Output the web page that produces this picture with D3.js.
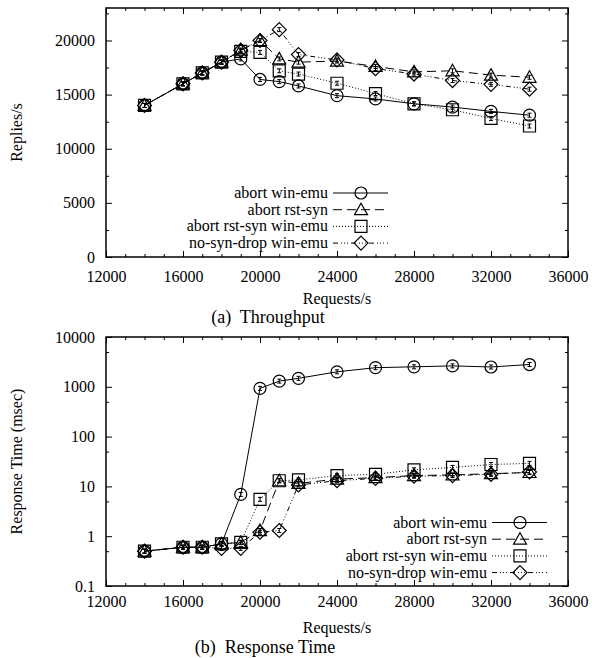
<!DOCTYPE html>
<html>
<head>
<meta charset="utf-8">
<script src="https://cdn.jsdelivr.net/npm/d3@7"></script>
<style>
  body { margin: 0; background: #fff; }
  svg { display: block; }
  text { font-family: "Liberation Serif", "Times New Roman", serif; fill: #000; }
</style>
</head>
<body>
<svg id="chart" width="592" height="658"></svg>
<script>
// request rates (x axis) shared by both panels
const requests = [14000, 16000, 17000, 18000, 19000, 20000, 21000, 22000, 24000, 26000, 28000, 30000, 32000, 34000];

const seriesNames = ['abort win-emu', 'abort rst-syn', 'abort rst-syn win-emu', 'no-syn-drop win-emu'];

// (a) throughput, replies/s
const tputAbortWinEmu    = [14000, 16000, 17000, 18000, 18300, 16400, 16200, 15800, 14900, 14600, 14150, 13850, 13450, 13100];
const tputAbortRstSyn    = [14000, 16000, 17000, 18000, 19100, 20000, 18300, 18000, 18100, 17600, 17100, 17200, 16800, 16600];
const tputAbortRstSynWin = [14000, 16000, 17000, 18000, 19000, 18900, 17200, 16900, 16050, 15100, 14150, 13600, 12800, 12100];
const tputNoSynDrop      = [14000, 16000, 17000, 18000, 19100, 20000, 21000, 18700, 18200, 17400, 16900, 16300, 15950, 15500];

// (b) response time, msec
const rtAbortWinEmu    = [0.5, 0.6, 0.6, 0.7, 6.9, 930, 1300, 1480, 2000, 2420, 2520, 2630, 2500, 2800];
const rtAbortRstSyn    = [0.5, 0.6, 0.6, 0.7, 0.75, 1.3, 13, 11.5, 14, 15, 16.5, 17, 18, 19];
const rtAbortRstSynWin = [0.5, 0.6, 0.6, 0.7, 0.75, 5.5, 13, 13.5, 16.5, 17.5, 21.5, 24, 27.5, 29];
const rtNoSynDrop      = [0.5, 0.6, 0.6, 0.57, 0.57, 1.2, 1.3, 10.7, 13, 14.5, 16, 16.5, 17.5, 19.5];

const xMajor = [12000, 16000, 20000, 24000, 28000, 32000, 36000];
const tputMajor = [0, 5000, 10000, 15000, 20000];
const rtMajor = [0.1, 1, 10, 100, 1000, 10000];

const svg = d3.select('#chart');

const styles = [
  { dash: null, marker: 'circle' },
  { dash: '9,5', marker: 'triangle' },
  { dash: '1,2', marker: 'square' },
  { dash: '5,3,1,2,1,2,1,3', marker: 'diamond' }
];

function markerPath(type) {
  if (type === 'circle') return 'M6,0A6,6 0 1,1 -6,0A6,6 0 1,1 6,0Z';
  if (type === 'triangle') return 'M0,-6.5L6.5,5L-6.5,5Z';
  if (type === 'square') return 'M-6,-6H6V6H-6Z';
  return 'M0,-7L7,0L0,7L-7,0Z';
}

function drawMarker(g, type, x, y) {
  g.append('path').attr('d', markerPath(type))
    .attr('transform', 'translate(' + x + ',' + y + ')')
    .attr('fill', 'none').attr('stroke', '#000').attr('stroke-width', 1.2);
  // tiny error bar glyph inside the point
  g.append('path').attr('d', 'M-2,-2H2M0,-2V2M-2,2H2')
    .attr('transform', 'translate(' + x + ',' + y + ')')
    .attr('fill', 'none').attr('stroke', '#000').attr('stroke-width', 1);
}

function panel(cfg) {
  const x = d3.scaleLinear().domain([12000, 36000]).range([106, 568]);
  const y = cfg.y;
  const top = y.range()[1], bottom = y.range()[0];
  const g = svg.append('g');

  // axes with inward ticks
  g.append('g').attr('transform', 'translate(0,' + bottom + ')')
    .call(d3.axisBottom(x).tickValues(xMajor).tickSize(-6).tickPadding(cfg.xPad).tickFormat(d3.format('d')));
  g.append('g').attr('transform', 'translate(0,' + bottom + ')')
    .call(d3.axisBottom(x).tickValues(d3.range(13000, 36000, 1000).filter(v => v % 4000)).tickSize(-3).tickFormat(''));
  g.append('g').attr('transform', 'translate(0,' + top + ')')
    .call(d3.axisTop(x).tickValues(xMajor).tickSize(-6).tickFormat(''));
  g.append('g').attr('transform', 'translate(0,' + top + ')')
    .call(d3.axisTop(x).tickValues(d3.range(13000, 36000, 1000).filter(v => v % 4000)).tickSize(-3).tickFormat(''));

  g.append('g').attr('transform', 'translate(106,0)')
    .call(d3.axisLeft(y).tickValues(cfg.yMajor).tickSize(-6).tickPadding(11).tickFormat(cfg.fmt));
  g.append('g').attr('transform', 'translate(106,0)')
    .call(d3.axisLeft(y).tickValues(cfg.yMinor).tickSize(-3).tickFormat(''));
  g.append('g').attr('transform', 'translate(568,0)')
    .call(d3.axisRight(y).tickValues(cfg.yMajor).tickSize(-6).tickFormat(''));
  g.append('g').attr('transform', 'translate(568,0)')
    .call(d3.axisRight(y).tickValues(cfg.yMinor).tickSize(-3).tickFormat(''));

  g.selectAll('.domain').remove();
  g.selectAll('.tick line').attr('stroke', '#000');
  g.selectAll('.tick text').attr('font-size', 16).attr('font-family', '"Liberation Serif", serif');

  g.append('rect').attr('x', 106).attr('y', top).attr('width', 462).attr('height', bottom - top)
    .attr('fill', 'none').attr('stroke', '#000').attr('stroke-width', 1.5);

  // series
  const line = d3.line().x((d, i) => x(requests[i])).y(d => y(d));
  cfg.series.forEach(function(vals, s) {
    g.append('path').datum(vals).attr('d', line)
      .attr('fill', 'none').attr('stroke', '#000').attr('stroke-width', 1)
      .attr('stroke-dasharray', styles[s].dash);
    vals.forEach(function(v, i) { drawMarker(g, styles[s].marker, x(requests[i]), y(v)); });
  });

  // legend
  seriesNames.forEach(function(name, s) {
    const ly = cfg.legendY + s * 16.7;
    g.append('text').attr('x', cfg.legendX).attr('y', ly + 5).attr('text-anchor', 'end')
      .attr('font-size', 16).text(name);
    g.append('line').attr('x1', cfg.legendX + 5).attr('x2', cfg.legendX + 60)
      .attr('y1', ly).attr('y2', ly).attr('stroke', '#000').attr('stroke-width', 1)
      .attr('stroke-dasharray', styles[s].dash);
    g.append('path').attr('d', markerPath(styles[s].marker))
      .attr('transform', 'translate(' + (cfg.legendX + 33) + ',' + ly + ')')
      .attr('fill', 'none').attr('stroke', '#000').attr('stroke-width', 1.2);
  });

  // labels
  g.append('text').attr('x', 337).attr('y', bottom + 47).attr('text-anchor', 'middle')
    .attr('font-size', 16).text('Requests/s');
  g.append('text').attr('x', cfg.captionX).attr('y', bottom + cfg.capDy).attr('text-anchor', 'middle')
    .attr('font-size', 18).style('white-space', 'pre').text(cfg.caption);
  g.append('text').attr('transform', 'translate(22,' + ((top + bottom) / 2) + ') rotate(-90)')
    .attr('text-anchor', 'middle').attr('font-size', 16).text(cfg.yLabel);
}

panel({
  y: d3.scaleLinear().domain([0, 23000]).range([257, 8]),
  yMajor: tputMajor,
  yMinor: [2500, 7500, 12500, 17500, 22500],
  fmt: d3.format('d'),
  series: [tputAbortWinEmu, tputAbortRstSyn, tputAbortRstSynWin, tputNoSynDrop],
  legendX: 328, legendY: 193,
  xPad: 14, capDy: 66,
  caption: '(a)  Throughput', captionX: 268,
  yLabel: 'Replies/s'
});

panel({
  y: d3.scaleLog().domain([0.1, 10000]).range([586, 337]),
  yMajor: rtMajor,
  yMinor: [0.5, 5, 50, 500, 5000],
  fmt: d => String(d),
  series: [rtAbortWinEmu, rtAbortRstSyn, rtAbortRstSynWin, rtNoSynDrop],
  legendX: 487, legendY: 522.5,
  xPad: 10, capDy: 67,
  caption: '(b)  Response Time', captionX: 265,
  yLabel: 'Response Time (msec)'
});
</script>
</body>
</html>
